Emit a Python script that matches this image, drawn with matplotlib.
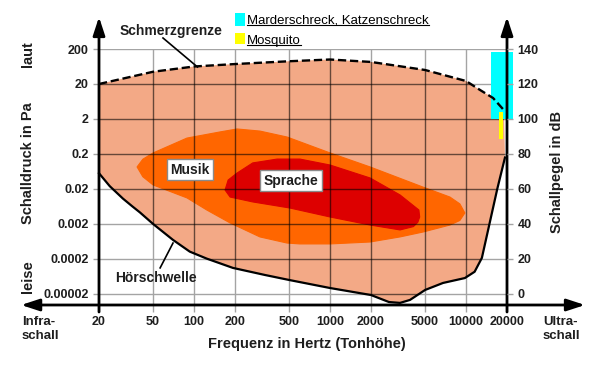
import matplotlib
matplotlib.use('Agg')
import matplotlib.pyplot as plt
from matplotlib.patches import Polygon, Rectangle
from matplotlib.lines import Line2D
from matplotlib.ticker import NullLocator

plt.rcParams['font.family'] = ['Liberation Sans', 'DejaVu Sans']

# ---------------- data ----------------
freq_ticks = [20, 50, 100, 200, 500, 1000, 2000, 5000, 10000, 20000]
freq_labels = ['20', '50', '100', '200', '500', '1000', '2000', '5000', '10000', '20000']
db_ticks = [0, 20, 40, 60, 80, 100, 120, 140]
pa_labels = ['0.00002', '0.0002', '0.002', '0.02', '0.2', '2', '20', '200']
db_labels = ['0', '20', '40', '60', '80', '100', '120', '140']

# Schmerzgrenze (pain threshold)
pain_f = [20, 50, 100, 200, 500, 1000, 2000, 5000, 10000, 12660, 15790, 19010]
pain_db = [120, 127, 130, 131.4, 133, 134, 132.6, 128, 121.7, 116.6, 112, 105]

# Hörschwelle (hearing threshold)
hear_f = [20, 24, 30, 35, 40, 50, 70, 93, 124, 193, 330, 500, 1000, 2000, 2710, 3270, 3870,
          5000, 6770, 9800, 11560, 13070, 16960, 19330]
hear_db = [69, 61.6, 54.5, 50.2, 46.6, 40, 30.9, 24.2, 20.2, 14.9, 10.9, 8, 3.4, -0.6, -4.6,
           -5.1, -3.4, 2.3, 6.3, 9.1, 12.7, 20.6, 60, 78]

# Musik area
music_f = [38.1, 42, 50, 88.7, 155, 207, 305, 483, 1000, 1970, 4820, 7610, 9000, 9800,
           9000, 7610, 4820, 3270, 1970, 1000, 600, 483, 305, 184, 124, 88.7, 50, 42]
music_db = [72.6, 77, 80.6, 89.1, 92.6, 94.3, 93.1, 89.7, 80.6, 72.6, 61.1, 55.4, 51.5, 46.3,
            42, 39.4, 35.4, 32.6, 29.7, 28.6, 28.6, 29.1, 32.6, 40.6, 48, 54.9, 62.3, 67]

# Sprache area
speech_f = [169, 178, 207, 270, 408, 600, 1000, 1970, 3270, 4040, 4500, 4560, 4420, 4100,
            3270, 1970, 1000, 508, 270, 184]
speech_db = [59.4, 65.1, 69.1, 74.9, 77.1, 77.1, 73.7, 66.3, 56.6, 50.9, 48, 44, 41, 38.5,
             36.6, 39.4, 44, 49.1, 52.6, 55.4]

# Marderschreck / Katzenschreck and Mosquito ranges
cat_f = [15250, 22150]
cat_db = [100, 138]
mosq_f = [17460, 18700]
mosq_db = [88.6, 104]

TXT = '#1e1e1e'
SALMON = '#F3A986'
ORANGE = '#FF6600'
RED = '#DD0000'
GRID = '#a4a4a4'

fig = plt.figure(figsize=(6.0, 3.66), dpi=100)
ax = fig.add_axes([99 / 600, 1 - 305 / 366, 408 / 600, 256 / 366])
ax.set_xscale('log')
ax.set_xlim(20, 20000)
ax.set_ylim(-6.3, 140)
for s in ax.spines.values():
    s.set_visible(False)
ax.patch.set_visible(False)
ax.xaxis.set_minor_locator(NullLocator())
ax.set_xticks(freq_ticks, freq_labels)
ax.set_yticks(db_ticks, pa_labels)
ax.tick_params(axis='x', length=5, width=1, color=GRID, pad=3, labelsize=9, labelcolor=TXT)
ax.tick_params(axis='y', length=4.5, width=1, color=GRID, pad=3, labelsize=9, labelcolor=TXT)
for lbl in ax.get_xticklabels() + ax.get_yticklabels():
    lbl.set_fontweight('bold')

ax2 = ax.twinx()
ax2.set_ylim(-6.3, 140)
for s in ax2.spines.values():
    s.set_visible(False)
ax2.set_yticks(db_ticks, db_labels)
ax2.tick_params(axis='y', length=4.5, width=1, color=GRID, pad=3, labelsize=9, labelcolor=TXT)
for lbl in ax2.get_yticklabels():
    lbl.set_fontweight('bold')

# light grid underneath
for f in freq_ticks[1:-1]:
    ax.axvline(f, color=GRID, lw=1, zorder=0.5)
for d in db_ticks:
    ax.axhline(d, color=GRID, lw=1, zorder=0.5)

# hearing area
area = list(zip(pain_f, pain_db)) + list(zip(hear_f[::-1], hear_db[::-1]))
area_patch = Polygon(area, closed=True, facecolor=SALMON, edgecolor='none', zorder=1)
ax.add_patch(area_patch)
ax.add_patch(Polygon(list(zip(music_f, music_db)), closed=True, facecolor=ORANGE,
                     edgecolor=ORANGE, lw=0.8, joinstyle='round', zorder=1.1))
ax.add_patch(Polygon(list(zip(speech_f, speech_db)), closed=True, facecolor=RED,
                     edgecolor=RED, lw=0.8, joinstyle='round', zorder=1.2))

# dark grid over the filled area
for f in freq_ticks[1:-1]:
    ln = ax.axvline(f, color='black', alpha=0.58, lw=1, zorder=2.5)
    ln.set_clip_path(area_patch)
for d in db_ticks:
    ln = ax.axhline(d, color='black', alpha=0.58, lw=1, zorder=2.5)
    ln.set_clip_path(area_patch)

# cat / mosquito bars
ax.add_patch(Rectangle((cat_f[0], cat_db[0]), cat_f[1] - cat_f[0], cat_db[1] - cat_db[0],
                       facecolor='#00FFFF', edgecolor='none', zorder=3, clip_on=False))
ax.add_patch(Rectangle((mosq_f[0], mosq_db[0]), mosq_f[1] - mosq_f[0], mosq_db[1] - mosq_db[0],
                       facecolor='#FFFF00', edgecolor='none', zorder=3, clip_on=False))

# curves
ax.plot(pain_f, pain_db, color='black', lw=1.7, dashes=(3.5, 1.6), zorder=4, clip_on=False)
ax.plot(hear_f, hear_db, color='black', lw=1.6, zorder=4, clip_on=False,
        solid_joinstyle='round')

# axes arrows
arrow_kw = dict(mutation_scale=10, lw=2, color='black', shrinkA=0, shrinkB=0)
ax.annotate('', xy=(20, 158.3), xytext=(20, -10.3), annotation_clip=False, zorder=5,
            arrowprops=dict(arrowstyle='-|>,head_length=1.1,head_width=0.36', **arrow_kw))
ax.annotate('', xy=(20000, 158.3), xytext=(20000, -10.3), annotation_clip=False, zorder=5,
            arrowprops=dict(arrowstyle='-|>,head_length=1.1,head_width=0.36', **arrow_kw))
ax.annotate('', xy=(74900, -6.3), xytext=(5.35, -6.3), annotation_clip=False, zorder=5,
            arrowprops=dict(arrowstyle='<|-|>,head_length=1.1,head_width=0.36', **arrow_kw))

# annotations
ax.text(67.8, 150.3, 'Schmerzgrenze', ha='center', va='center', fontsize=10,
        fontweight='bold', color=TXT)
ax.plot([59.1, 106], [146.3, 129.7], color='black', lw=1.2, zorder=4, clip_on=False)
ax.text(52.4, 9.1, 'Hörschwelle', ha='center', va='center', fontsize=10,
        fontweight='bold', color=TXT, zorder=6)
ax.plot([56.3, 70], [14.9, 29.1], color='black', lw=1.2, zorder=4)

box = dict(boxstyle='square,pad=0.25', facecolor='white', edgecolor='#8a8a8a', lw=1)
ax.text(93.3, 70.9, 'Musik', ha='center', va='center', fontsize=10, fontweight='bold',
        color=TXT, bbox=box, zorder=6)
ax.text(519, 64.6, 'Sprache', ha='center', va='center', fontsize=10, fontweight='bold',
        color=TXT, bbox=box, zorder=6)

# legend
ax.add_patch(Rectangle((200, 153.1), 37, 7.5, facecolor='#00FFFF', edgecolor='none',
                       clip_on=False, zorder=3))
ax.add_patch(Rectangle((200, 142.9), 37, 6.2, facecolor='#FFFF00', edgecolor='none',
                       clip_on=False, zorder=3))
t1 = ax.text(245, 154.3, 'Marderschreck, Katzenschreck', ha='left', va='baseline',
             fontsize=9.5, color='black')
t2 = ax.text(245, 142.9, 'Mosquito', ha='left', va='baseline', fontsize=9.5, color='black')

# axis titles
ax.text(-0.174, 0.555, 'Schalldruck in Pa', transform=ax.transAxes, rotation=90,
        ha='center', va='center', fontsize=10.5, fontweight='bold', color=TXT)
ax.text(-0.174, 0.98, 'laut', transform=ax.transAxes, rotation=90,
        ha='center', va='center', fontsize=10.5, fontweight='bold', color=TXT)
ax.text(-0.174, 0.109, 'leise', transform=ax.transAxes, rotation=90,
        ha='center', va='center', fontsize=10.5, fontweight='bold', color=TXT)
ax.text(1.123, 0.52, 'Schallpegel in dB', transform=ax.transAxes, rotation=90,
        ha='center', va='center', fontsize=10.5, fontweight='bold', color=TXT)
ax.text(0.51, -0.152, 'Frequenz in Hertz (Tonhöhe)', transform=ax.transAxes,
        ha='center', va='center', fontsize=10.5, fontweight='bold', color=TXT)
ax.text(-0.189, -0.043, 'Infra-\nschall', transform=ax.transAxes, ha='left', va='top',
        fontsize=9.5, fontweight='bold', color=TXT, linespacing=1.25)
ax.text(1.088, -0.043, 'Ultra-\nschall', transform=ax.transAxes, ha='left', va='top',
        fontsize=9.5, fontweight='bold', color=TXT, linespacing=1.25)

# underline legend texts
fig.canvas.draw()
r = fig.canvas.get_renderer()
for t, base in ((t1, 154.3), (t2, 142.9)):
    bb = t.get_window_extent(renderer=r)
    y = ax.transData.transform((245, base))[1] - 1.5
    fig.add_artist(Line2D([bb.x0, bb.x1], [y, y], transform=None, color='black', lw=0.8))

fig.savefig('out.png', dpi=100)
